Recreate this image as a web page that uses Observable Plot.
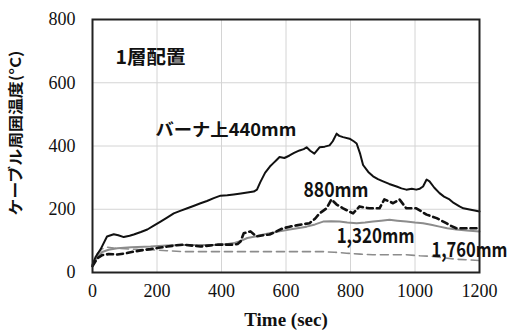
<!DOCTYPE html>
<html><head><meta charset="utf-8">
<script src="https://cdn.jsdelivr.net/npm/d3@7"></script>
<script src="https://cdn.jsdelivr.net/npm/@observablehq/plot@0.6"></script>
<style>
html,body{margin:0;padding:0;background:#fff;}
</style></head>
<body><div id="chart"></div>
<script>
const xTicks = [0, 200, 400, 600, 800, 1000, 1200];
const yTicks = [0, 200, 400, 600, 800];

const t440 = [0,10,25,45,66,80,97,115,128,150,170,190,211,230,252,272,294,315,335,355,376,397,418,438,460,480,500,510,520,535,550,560,570,580,595,611,625,642,655,664,675,688,704,720,735,745,757,765,777,797,810,819,830,839,855,870,885,901,920,943,958,973,990,1004,1015,1025,1036,1045,1060,1076,1090,1107,1120,1138,1150,1169,1185,1200];
const v440 = [25,50,73,114,121,118,112,116,120,128,136,148,161,173,187,195,203,211,219,226,235,243,244,247,250,253,256,262,285,315,335,345,355,365,362,370,378,386,390,396,385,376,396,398,402,415,439,432,428,423,415,408,375,340,318,304,295,288,280,272,266,262,265,262,265,272,294,288,268,251,240,231,220,209,203,199,196,193];

const t880 = [0,15,30,50,77,100,128,150,180,205,232,260,283,310,335,360,387,410,438,450,459,469,490,508,530,549,570,591,612,633,655,673,690,704,715,726,741,757,777,792,808,828,845,859,875,890,905,920,932,952,973,990,1004,1020,1036,1050,1067,1080,1097,1110,1128,1145,1159,1180,1200];
const v880 = [20,45,55,58,57,60,66,70,74,78,82,86,88,85,82,85,88,88,88,90,98,124,130,114,118,120,130,140,145,149,153,156,170,187,195,203,231,215,203,195,187,209,205,203,203,203,231,225,219,231,203,203,203,193,183,178,172,165,156,148,140,140,140,140,140];

const t1320 = [0,15,30,50,77,120,180,230,283,330,387,420,438,460,480,505,530,549,580,611,640,664,690,715,740,766,790,819,845,870,895,921,945,973,1000,1025,1050,1076,1100,1128,1160,1200];
const v1320 = [20,50,65,72,77,80,82,85,87,87,87,90,93,100,109,114,120,124,130,136,141,145,152,161,162,161,158,156,158,161,164,167,164,161,158,156,151,145,140,136,133,130];

const t1760 = [0,15,30,45,66,100,140,180,230,283,387,490,529,611,715,750,788,830,870,920,973,1015,1056,1090,1128,1160,1200];
const v1760 = [20,60,75,80,77,75,73,72,69,66,66,66,66,66,66,64,61,58,56,56,56,53,51,46,42,40,38];

const labelText = ["1層配置", "バーナ上440mm", "880mm", "1,320mm", "1,760mm"];
const labelT = [71, 195, 654, 757, 1051];
const labelV = [680, 449, 259, 114, 70];

const xTitle = "Time (sec)";
const yTitle = "ケーブル周囲温度(°C)";

// rendered text widths (styling only)
const fitWidth = {"1層配置": 70, "バーナ上440mm": 141, "880mm": 65, "1,320mm": 78, "1,760mm": 76, "ケーブル周囲温度(°C)": 165};
const fontSizes = {"1層配置": 19, "バーナ上440mm": 17, "880mm": 20, "1,320mm": 20, "1,760mm": 20};

const mk = (ts, vs) => ts.map((t, i) => ({t, v: vs[i]}));
const s440 = mk(t440, v440), s880 = mk(t880, v880), s1320 = mk(t1320, v1320), s1760 = mk(t1760, v1760);
const labels = labelText.map((s, i) => ({s, t: labelT[i], v: labelV[i]}));

const serif = "Liberation Serif";
const jp = "Noto Sans CJK JP";

const chart = Plot.plot({
  width: 512, height: 332,
  marginLeft: 92, marginRight: 33, marginTop: 19, marginBottom: 60,
  x: {domain: [0, 1200], axis: null},
  y: {domain: [0, 800], axis: null},
  marks: [
    Plot.gridX(xTicks, {stroke: "#d4d4d4", strokeOpacity: 1, strokeWidth: 1}),
    Plot.gridY(yTicks, {stroke: "#d4d4d4", strokeOpacity: 1, strokeWidth: 1}),
    Plot.text(xTicks, {x: d => d, text: d => String(d), frameAnchor: "bottom", dy: 24, fontSize: 18, fontFamily: serif, fill: "#111"}),
    Plot.text(yTicks, {y: d => d, text: d => String(d), frameAnchor: "left", textAnchor: "end", dx: -17, fontSize: 18, fontFamily: serif, fill: "#111"}),
    Plot.line(s1760, {x: "t", y: "v", stroke: "#8c8c8c", strokeWidth: 1.6, strokeDasharray: "8,5"}),
    Plot.line(s1320, {x: "t", y: "v", stroke: "#8c8c8c", strokeWidth: 2}),
    Plot.line(s880, {x: "t", y: "v", stroke: "#111", strokeWidth: 2.6, strokeDasharray: "6,4"}),
    Plot.line(s440, {x: "t", y: "v", stroke: "#111", strokeWidth: 2}),
    Plot.frame({stroke: "#222", strokeWidth: 2}),
    Plot.text(labels, {x: "t", y: "v", text: "s", textAnchor: "start", fontSize: d => fontSizes[d.s], fontWeight: "bold", fontFamily: jp, fill: "#111"}),
    Plot.text([xTitle], {frameAnchor: "bottom", dy: 53, fontSize: 19, fontWeight: "bold", fontFamily: serif, fill: "#111"}),
    Plot.text([yTitle], {frameAnchor: "left", textAnchor: "middle", dx: -76, dy: -13, rotate: -90, fontSize: 15, fontWeight: "bold", fontFamily: jp, fill: "#111"})
  ]
});
chart.querySelectorAll("text").forEach(el => {
  const w = fitWidth[el.textContent];
  if (w) { el.setAttribute("textLength", w); el.setAttribute("lengthAdjust", "spacingAndGlyphs"); }
});
document.getElementById("chart").appendChild(chart);
</script>
</body></html>
